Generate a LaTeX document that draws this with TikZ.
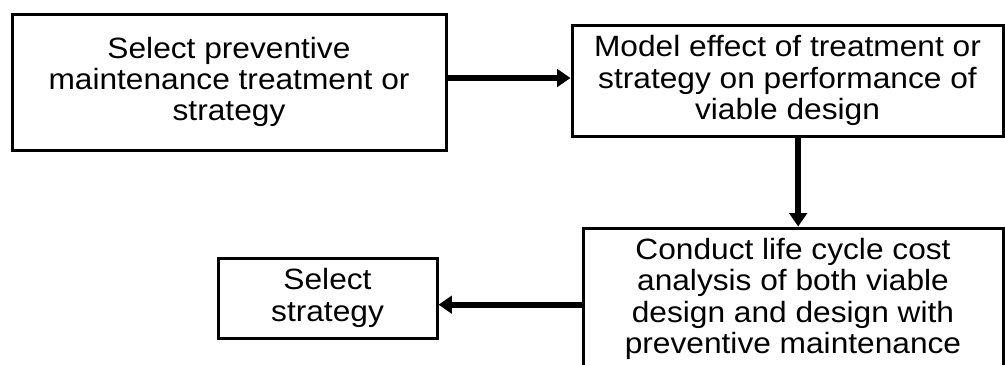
\documentclass[tikz,border=0pt]{standalone}
\usepackage{fontspec}
\setmainfont{Liberation Sans}[FakeStretch=1.08]
\usetikzlibrary{arrows.meta}
\begin{document}
\begin{tikzpicture}[x=0.75pt,y=-0.75pt]
		\tikzstyle{box}=[draw,line width=2.25pt,align=center,inner sep=0pt,font=\fontsize{22pt}{23.5pt}\selectfont]
		\tikzstyle{flow}=[line width=4.5pt,-{Triangle[length=10pt,width=13pt]}]
		\useasboundingbox (0,0) rectangle (1005,364);

		\node[box,minimum width=325.5pt,minimum height=102pt] (sel) at (229,82) {Select preventive\\maintenance treatment or\\strategy};
		\node[box,minimum width=323.25pt,minimum height=83.25pt] (model) at (787.5,80.5) {Model effect of treatment or\\strategy on performance of\\viable design};
		\node[box,minimum width=315pt,minimum height=106.5pt] (lcc) at (793,299) {Conduct life cycle cost\\analysis of both viable\\design and design with\\preventive maintenance};
		\node[box,minimum width=164.25pt,minimum height=60pt] (choose) at (327.5,298) {Select\\strategy};

		\draw[flow] ([yshift=3pt]sel.east) -- ([yshift=3pt]sel.east -| model.west);
		\draw[flow] ([xshift=8pt]model.south) -- ([xshift=8pt]model.south |- lcc.north);
		\draw[flow] ([yshift=-5pt]choose.east -| lcc.west) -- ([yshift=-5pt]choose.east);
\end{tikzpicture}
\end{document}
